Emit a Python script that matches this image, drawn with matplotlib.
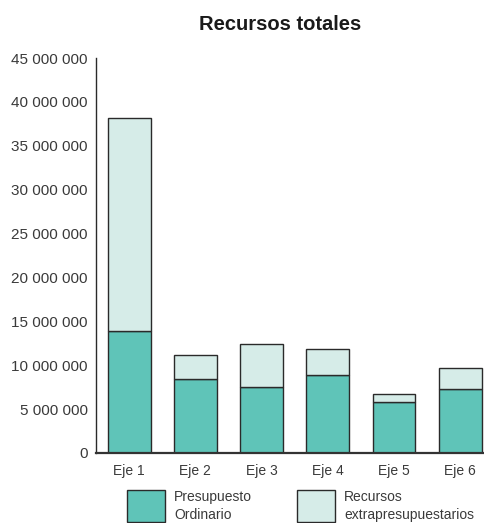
import matplotlib
matplotlib.use("Agg")
import matplotlib.pyplot as plt
from matplotlib.patches import Rectangle
from matplotlib.ticker import FuncFormatter

plt.rcParams["font.family"] = ["Liberation Sans", "DejaVu Sans"]

ejes = ["Eje 1", "Eje 2", "Eje 3", "Eje 4", "Eje 5", "Eje 6"]
presupuesto_ordinario = [13_860_000, 8_390_000, 7_480_000, 8_850_000, 5_770_000, 7_290_000]
recursos_extra = [24_340_000, 2_740_000, 4_900_000, 2_960_000, 990_000, 2_360_000]
yticks = list(range(0, 45_000_001, 5_000_000))

dark = "#5fc4b8"
light = "#d6ece8"
edge = "#2a2a2a"
text_col = "#3a3a3a"

fig = plt.figure(figsize=(4.84, 5.23), dpi=100)
ax = fig.add_axes([96 / 484, 70 / 523, 388 / 484, 395 / 523])

x = range(len(ejes))
ax.bar(x, presupuesto_ordinario, width=0.647, color=dark, edgecolor=edge, linewidth=1)
ax.bar(x, recursos_extra, width=0.647, bottom=presupuesto_ordinario,
       color=light, edgecolor=edge, linewidth=1)

ax.set_xlim(-0.5, 5.36)
ax.set_ylim(0, 45_000_000)
ax.set_yticks(yticks)
ax.yaxis.set_major_formatter(FuncFormatter(lambda v, p: "0" if v == 0 else f"{int(v):,}".replace(",", " ")))
ax.set_xticks(list(x))
ax.set_xticklabels(ejes)
ax.tick_params(axis="both", length=0, colors=text_col)
ax.tick_params(axis="y", pad=6, labelsize=11)
ax.tick_params(axis="x", pad=8, labelsize=10)

for s in ["top", "right"]:
    ax.spines[s].set_visible(False)
ax.spines["left"].set_color(edge)
ax.spines["left"].set_linewidth(1.0)
ax.spines["bottom"].set_color("#333333")
ax.spines["bottom"].set_linewidth(1.6)

fig.text(280 / 484, 1 - 25 / 523, "Recursos totales", ha="center", va="center",
         fontsize=14.5, fontweight="bold", color="#1a1a1a")

# legend drawn by hand below the axis
items = [(dark, "Presupuesto\nOrdinario", 127), (light, "Recursos\nextrapresupuestarios", 297)]
for col, label, px in items:
    fig.patches.append(Rectangle((px / 484, 1 - 522 / 523), 38 / 484, 32 / 523,
                                 transform=fig.transFigure, facecolor=col,
                                 edgecolor=edge, linewidth=1))
    fig.text((px + 47) / 484, 1 - 506 / 523, label, ha="left", va="center",
             fontsize=10, color=text_col, linespacing=1.3)

fig.savefig("out.png", dpi=100)
